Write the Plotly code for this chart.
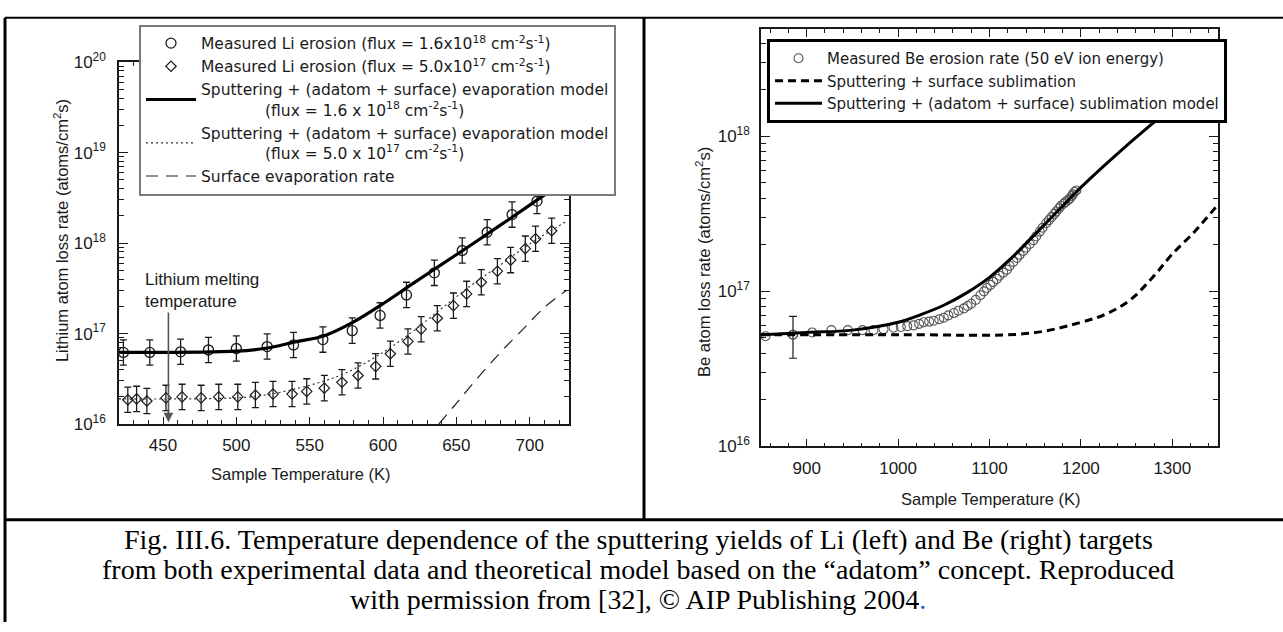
import plotly.graph_objects as go

# ---------------- Li target (left panel) ----------------
li_hi_temp = [423, 441, 462, 481, 500, 521, 539, 559, 579, 598, 616, 635, 654, 671, 688, 705]
li_hi_rate = [6.2e16, 6.2e16, 6.3e16, 6.6e16, 6.85e16, 7.2e16, 7.5e16, 8.6e16, 1.08e17,
              1.59e17, 2.68e17, 4.7e17, 8.3e17, 1.32e18, 2.07e18, 2.92e18]

li_lo_temp = [426, 432, 439, 452, 463, 476, 488, 501, 513, 525, 538, 548, 560, 572, 583,
              595, 605, 617, 626, 637, 648, 657, 667, 678, 687, 697, 704, 715]
li_lo_rate = [1.86e16, 1.9e16, 1.8e16, 1.95e16, 2.0e16, 1.95e16, 2.0e16, 2.0e16, 2.1e16,
              2.15e16, 2.15e16, 2.3e16, 2.5e16, 2.9e16, 3.45e16, 4.35e16, 6.0e16, 8.2e16,
              1.12e17, 1.48e17, 2.04e17, 2.75e17, 3.7e17, 4.9e17, 6.5e17, 8.7e17, 1.12e18,
              1.37e18]
li_err_factor = 1.38  # measured points carry about +/-0.14 decade

li_model_hi_temp = [420, 500, 520, 540, 560, 580, 600, 620, 640, 660, 680, 700, 725]
li_model_hi_rate = [6.2e16, 6.4e16, 6.9e16, 8.1e16, 9.5e16, 1.35e17, 2.14e17, 3.55e17,
                    5.82e17, 9.55e17, 1.58e18, 2.63e18, 5.0e18]

li_model_lo_temp = [420, 500, 520, 540, 560, 575, 600, 620, 640, 660, 680, 700, 725]
li_model_lo_rate = [1.9e16, 1.95e16, 2.1e16, 2.45e16, 3.0e16, 3.7e16, 6.2e16, 1.05e17,
                    1.9e17, 3.4e17, 5.75e17, 9.8e17, 1.74e18]

li_evap_temp = [638, 650, 665, 680, 695, 710, 725]
li_evap_rate = [1.0e16, 1.7e16, 3.3e16, 6.2e16, 1.1e17, 1.95e17, 3.0e17]

li_melting_temp = 453.7

# ---------------- Be target (right panel) ----------------
be_temp = [855, 885, 906, 927, 945, 961, 973, 984, 995, 1003, 1010, 1017, 1023, 1028, 1034,
           1039, 1045, 1050, 1055, 1061, 1066, 1072, 1076, 1080, 1085, 1090, 1094, 1097,
           1101, 1104, 1108, 1111, 1115, 1119, 1122, 1126, 1130, 1133, 1137, 1140, 1144,
           1148, 1151, 1155, 1158, 1162, 1165, 1168, 1171, 1173, 1176, 1178, 1181, 1183,
           1186, 1188, 1190, 1191, 1193, 1195]
be_rate = [5.13e16, 5.25e16, 5.43e16, 5.62e16, 5.62e16, 5.62e16, 5.62e16, 5.69e16, 5.82e16,
           5.89e16, 5.96e16, 6.03e16, 6.17e16, 6.31e16, 6.38e16, 6.46e16, 6.61e16, 6.76e16,
           7.0e16, 7.24e16, 7.5e16, 7.76e16, 8.04e16, 8.32e16, 8.81e16, 9.44e16, 1.0e17,
           1.05e17, 1.1e17, 1.15e17, 1.2e17, 1.26e17, 1.32e17, 1.38e17, 1.46e17, 1.55e17,
           1.64e17, 1.72e17, 1.82e17, 1.91e17, 2.02e17, 2.14e17, 2.26e17, 2.43e17, 2.57e17,
           2.75e17, 2.88e17, 3.02e17, 3.16e17, 3.27e17, 3.43e17, 3.55e17, 3.67e17, 3.76e17,
           3.89e17, 3.98e17, 4.12e17, 4.22e17, 4.37e17, 4.47e17]
be_errbar_temp = [885]
be_errbar_rate = [5.25e16]
be_errbar_up = [1.65e16]
be_errbar_down = [1.55e16]

be_subl_temp = [850, 1000, 1145, 1200, 1230, 1255, 1280, 1300, 1325, 1350]
be_subl_rate = [5.25e16, 5.25e16, 5.37e16, 6.31e16, 7.24e16, 8.91e16, 1.26e17, 1.74e17,
                2.45e17, 3.63e17]

be_model_temp = [850, 900, 950, 1000, 1025, 1050, 1075, 1100, 1125, 1150, 1175, 1200, 1250,
                 1300, 1350]
be_model_rate = [5.25e16, 5.43e16, 5.62e16, 6.31e16, 7.08e16, 8.13e16, 9.77e16, 1.23e17,
                 1.66e17, 2.34e17, 3.31e17, 4.68e17, 8.71e17, 1.55e18, 2.75e18]

caption_lines = [
    "Fig. III.6. Temperature dependence of the sputtering yields of Li (left) and Be (right) targets",
    "from both experimental data and theoretical model based on the \u201cadatom\u201d concept. Reproduced",
    "with permission from [32], \u00a9 AIP Publishing 2004<span style='color:#2a5bd7'>.</span>",
]

W, H = 1283, 632
SANS = "Liberation Sans, Arial, sans-serif"
WIDE = "DejaVu Sans, Liberation Sans, sans-serif"
SERIF = "Liberation Serif, Times New Roman, serif"
INK = "#1a1a1a"


def px_x(p):
    return p / W


def px_y(p):
    return 1 - p / H


def sup(base, exp):
    return f"{base}<sup>{exp}</sup>"


FLUX_UNIT = "cm<sup>-2</sup>s<sup>-1</sup>"
pad = "\u00a0" * 13

fig = go.Figure()

# left panel traces
fig.add_trace(go.Scatter(
    x=li_hi_temp, y=li_hi_rate, mode="markers",
    name=f"Measured Li erosion (flux = 1.6x10<sup>18</sup> {FLUX_UNIT})",
    marker=dict(symbol="circle-open", size=10, color=INK, line=dict(width=1.3, color=INK)),
    error_y=dict(type="data", symmetric=False,
                 array=[v * (li_err_factor - 1) for v in li_hi_rate],
                 arrayminus=[v * (1 - 1 / li_err_factor) for v in li_hi_rate],
                 width=3.5, thickness=1.3, color=INK),
    xaxis="x", yaxis="y", legend="legend",
))
fig.add_trace(go.Scatter(
    x=li_lo_temp, y=li_lo_rate, mode="markers",
    name=f"Measured Li erosion (flux = 5.0x10<sup>17</sup> {FLUX_UNIT})",
    marker=dict(symbol="diamond-open", size=8, color=INK, line=dict(width=1.2, color=INK)),
    error_y=dict(type="data", symmetric=False,
                 array=[v * (li_err_factor - 1) for v in li_lo_rate],
                 arrayminus=[v * (1 - 1 / li_err_factor) for v in li_lo_rate],
                 width=3.5, thickness=1.3, color=INK),
    xaxis="x", yaxis="y", legend="legend",
))
fig.add_trace(go.Scatter(
    x=li_model_hi_temp, y=li_model_hi_rate, mode="lines", line_shape="spline",
    name=f"Sputtering + (adatom + surface) evaporation model<br>{pad}(flux = 1.6 x 10<sup>18</sup> {FLUX_UNIT})",
    line=dict(color="black", width=3.2),
    xaxis="x", yaxis="y", legend="legend",
))
fig.add_trace(go.Scatter(
    x=li_model_lo_temp, y=li_model_lo_rate, mode="lines", line_shape="spline",
    name=f"Sputtering + (adatom + surface) evaporation model<br>{pad}(flux = 5.0 x 10<sup>17</sup> {FLUX_UNIT})",
    line=dict(color="#333333", width=1.2, dash="2px,3px"),
    xaxis="x", yaxis="y", legend="legend",
))
fig.add_trace(go.Scatter(
    x=li_evap_temp, y=li_evap_rate, mode="lines", line_shape="spline",
    name="Surface evaporation rate",
    line=dict(color="#222222", width=1.2, dash="12px,8px"),
    xaxis="x", yaxis="y", legend="legend",
))

# right panel traces
fig.add_trace(go.Scatter(
    x=be_temp, y=be_rate, mode="markers",
    name="Measured Be erosion rate (50 eV ion energy)",
    marker=dict(symbol="circle-open", size=9, color="#555555", line=dict(width=1.1, color="#555555")),
    xaxis="x2", yaxis="y2", legend="legend2",
))
fig.add_trace(go.Scatter(
    x=be_errbar_temp, y=be_errbar_rate, mode="markers", showlegend=False,
    marker=dict(symbol="circle-open", size=9, color="#555555", line=dict(width=1.1, color="#555555")),
    error_y=dict(type="data", symmetric=False, array=be_errbar_up, arrayminus=be_errbar_down,
                 width=4, thickness=1.2, color=INK),
    xaxis="x2", yaxis="y2",
))
fig.add_trace(go.Scatter(
    x=be_subl_temp, y=be_subl_rate, mode="lines", line_shape="spline",
    name="Sputtering + surface sublimation",
    line=dict(color="black", width=3, dash="8px,5px"),
    xaxis="x2", yaxis="y2", legend="legend2",
))
fig.add_trace(go.Scatter(
    x=be_model_temp, y=be_model_rate, mode="lines", line_shape="spline",
    name="Sputtering + (adatom + surface) sublimation model",
    line=dict(color="black", width=3),
    xaxis="x2", yaxis="y2", legend="legend2",
))

axis_common = dict(showgrid=False, zeroline=False, showline=True, linecolor=INK,
                   linewidth=1.5, ticks="inside", tickcolor=INK, tickwidth=1.2,
                   mirror="ticks", tickfont=dict(family=SANS, size=17, color=INK))

li_minor = [m * 10.0 ** e for e in range(16, 20) for m in range(2, 10)]
be_minor = [m * 10.0 ** e for e in range(16, 19) for m in range(2, 10)]

fig.update_layout(
    width=W, height=H, autosize=False,
    margin=dict(l=0, r=0, t=0, b=0),
    paper_bgcolor="white", plot_bgcolor="white",
    font=dict(family=SANS, color=INK),
    xaxis=dict(axis_common, domain=[px_x(119), px_x(569)], range=[420, 726.8],
               tickvals=[450, 500, 550, 600, 650, 700], ticklen=7, ticklabelstandoff=5,
               minor=dict(dtick=10, tick0=0, ticks="inside", ticklen=4, tickcolor=INK),
               anchor="y"),
    yaxis=dict(axis_common, domain=[px_y(427), px_y(52)], type="log", range=[16, 20],
               tickvals=[1e16, 1e17, 1e18, 1e19, 1e20],
               ticktext=[sup(10, e) for e in range(16, 21)], ticklen=9, ticklabelstandoff=8,
               minor=dict(tickvals=li_minor, ticks="inside", ticklen=5, tickcolor=INK),
               anchor="x"),
    xaxis2=dict(axis_common, domain=[px_x(761), px_x(1218)], range=[850, 1350],
                tickvals=[900, 1000, 1100, 1200, 1300], ticklen=8, ticklabelstandoff=6,
                minor=dict(dtick=20, tick0=0, ticks="inside", ticklen=4, tickcolor=INK),
                anchor="y2"),
    yaxis2=dict(axis_common, domain=[px_y(450), px_y(18)], type="log", range=[16, 18.69],
                tickvals=[1e16, 1e17, 1e18],
                ticktext=[sup(10, e) for e in range(16, 19)], ticklen=9, ticklabelstandoff=6,
                minor=dict(tickvals=be_minor, ticks="inside", ticklen=5, tickcolor=INK),
                anchor="x2"),
    legend=dict(x=px_x(139), y=px_y(13), xanchor="left", yanchor="top",
                bgcolor="white", bordercolor="#7a7a7a", borderwidth=2,
                font=dict(family=WIDE, size=15.5, color=INK), itemwidth=50,
                tracegroupgap=0),
    legend2=dict(x=px_x(767), y=px_y(28), xanchor="left", yanchor="top",
                 bgcolor="white", bordercolor="black", borderwidth=3,
                 font=dict(family=WIDE, size=15, color=INK), itemwidth=47,
                 tracegroupgap=0),
)

annotations = [
    # axis titles
    dict(text="Lithium atom loss rate (atoms/cm<sup>2</sup>s)", x=px_x(61), y=px_y(227),
         textangle=-90, font=dict(size=16.5)),
    dict(text="Sample Temperature (K)", x=px_x(300), y=px_y(479), font=dict(size=16.5)),
    dict(text="Be atom loss rate (atoms/cm<sup>2</sup>s)", x=px_x(703), y=px_y(259),
         textangle=-90, font=dict(size=16.5)),
    dict(text="Sample Temperature (K)", x=px_x(990), y=px_y(505), font=dict(size=16.5)),
    # melting-point label
    dict(text="Lithium melting<br>temperature", x=px_x(143), y=px_y(289), xanchor="left",
         align="left", font=dict(size=17)),
]
for i, line in enumerate(caption_lines):
    annotations.append(dict(text=line, x=px_x(638), y=px_y(546.5 + i * 31.2),
                            font=dict(family=SERIF, size=28, color="black")))
for a in annotations:
    a.setdefault("xref", "paper")
    a.setdefault("yref", "paper")
    a.setdefault("showarrow", False)
    a.setdefault("xanchor", "center")
    a.setdefault("yanchor", "middle")
    a["font"] = dict(dict(family=SANS, color=INK), **a["font"])

# melting temperature arrow (log axis -> annotation y in decades)
annotations.append(dict(
    x=li_melting_temp, y=16.02, xref="x", yref="y",
    ax=li_melting_temp, ay=17.25, axref="x", ayref="y",
    text="", showarrow=True, arrowhead=2, arrowsize=1.2, arrowwidth=1.6,
    arrowcolor="#555555",
))
fig.update_layout(annotations=annotations)

# table borders of the page figure
border = dict(type="line", xref="paper", yref="paper", line=dict(color="black"))
fig.update_layout(shapes=[
    dict(border, x0=px_x(5), x1=1, y0=px_y(6), y1=px_y(6), line=dict(color="black", width=2)),
    dict(border, x0=px_x(5), x1=px_x(5), y0=0, y1=px_y(6), line=dict(color="black", width=3)),
    dict(border, x0=px_x(644), x1=px_x(644), y0=px_y(526), y1=px_y(6),
         line=dict(color="black", width=3)),
    dict(border, x0=px_x(5), x1=1, y0=px_y(526), y1=px_y(526), line=dict(color="black", width=3)),
])

fig.write_html(
    "out.html",
    config={"displayModeBar": False},
    post_script="document.body.style.margin='0';document.body.style.overflow='hidden';",
)
